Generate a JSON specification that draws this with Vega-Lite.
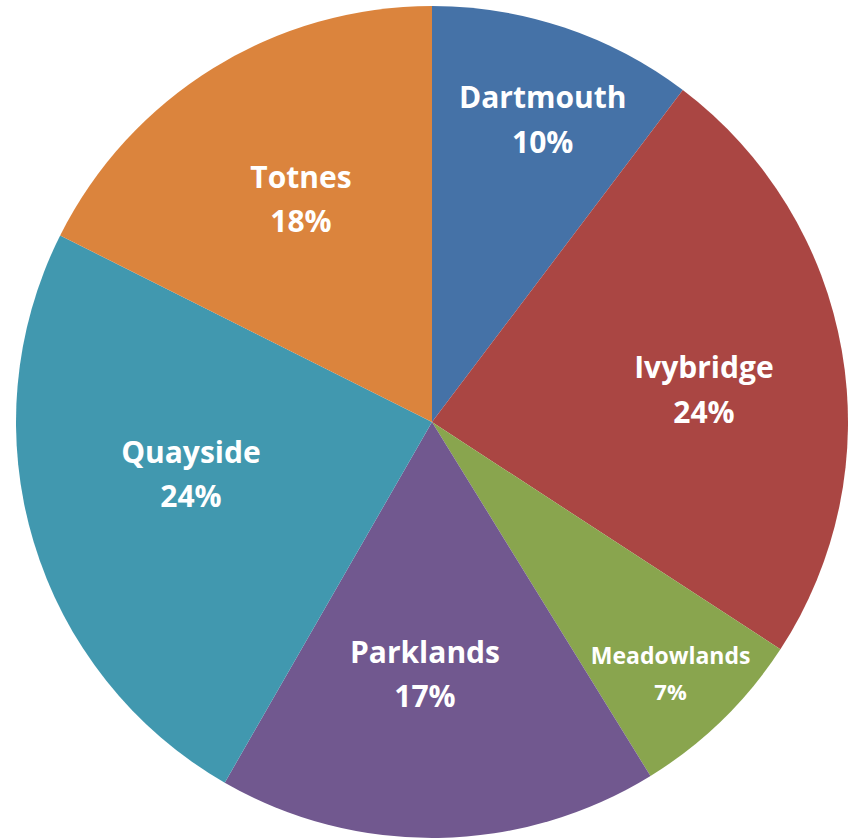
{
  "$schema": "https://vega.github.io/schema/vega-lite/v6.json",
  "width": 840,
  "height": 834,
  "padding": {"left": 12, "top": 5, "right": 0, "bottom": 0},
  "autosize": {"type": "none"},
  "background": "white",
  "view": {"stroke": null},
  "config": {"text": {"font": "Open Sans", "fontWeight": "bold", "fill": "white", "fontSize": 30}},
  "data": {
    "values": [
      {"order": 1, "region": "Dartmouth", "share": 0.103},
      {"order": 2, "region": "Ivybridge", "share": 0.239},
      {"order": 3, "region": "Meadowlands", "share": 0.070},
      {"order": 4, "region": "Parklands", "share": 0.171},
      {"order": 5, "region": "Quayside", "share": 0.241},
      {"order": 6, "region": "Totnes", "share": 0.176}
    ]
  },
  "encoding": {
    "theta": {"field": "share", "type": "quantitative", "stack": true},
    "order": {"field": "order", "type": "quantitative"}
  },
  "layer": [
    {
      "mark": {"type": "arc", "outerRadius": 416, "strokeWidth": 0},
      "encoding": {
        "color": {
          "field": "region",
          "type": "nominal",
          "legend": null,
          "scale": {
            "domain": ["Dartmouth", "Ivybridge", "Meadowlands", "Parklands", "Quayside", "Totnes"],
            "range": ["#4572A7", "#AA4643", "#89A54E", "#71588F", "#4198AF", "#DB843D"]
          }
        }
      }
    },
    {"mark": {"type": "text", "radius": 323, "dx": 8, "dy": -17},
     "encoding": {"text": {"condition": {"test": "datum.region === 'Dartmouth'", "field": "region"}, "value": ""}}},
    {"mark": {"type": "text", "radius": 323, "dx": 8, "dy": 28},
     "encoding": {"text": {"condition": {"test": "datum.region === 'Dartmouth'", "field": "share", "format": ".0%"}, "value": ""}}},
    {"mark": {"type": "text", "radius": 274, "dx": 2, "dy": -6},
     "encoding": {"text": {"condition": {"test": "datum.region === 'Ivybridge'", "field": "region"}, "value": ""}}},
    {"mark": {"type": "text", "radius": 274, "dx": 2, "dy": 39},
     "encoding": {"text": {"condition": {"test": "datum.region === 'Ivybridge'", "field": "share", "format": ".0%"}, "value": ""}}},
    {"mark": {"type": "text", "radius": 346, "dx": -3, "dy": -13, "fontSize": 23},
     "encoding": {"text": {"condition": {"test": "datum.region === 'Meadowlands'", "field": "region"}, "value": ""}}},
    {"mark": {"type": "text", "radius": 346, "dx": -3, "dy": 23, "fontSize": 22},
     "encoding": {"text": {"condition": {"test": "datum.region === 'Meadowlands'", "field": "share", "format": ".0%"}, "value": ""}}},
    {"mark": {"type": "text", "radius": 252, "dx": -11, "dy": -20},
     "encoding": {"text": {"condition": {"test": "datum.region === 'Parklands'", "field": "region"}, "value": ""}}},
    {"mark": {"type": "text", "radius": 252, "dx": -11, "dy": 24},
     "encoding": {"text": {"condition": {"test": "datum.region === 'Parklands'", "field": "share", "format": ".0%"}, "value": ""}}},
    {"mark": {"type": "text", "radius": 258, "dx": 6, "dy": -42},
     "encoding": {"text": {"condition": {"test": "datum.region === 'Quayside'", "field": "region"}, "value": ""}}},
    {"mark": {"type": "text", "radius": 258, "dx": 6, "dy": 2},
     "encoding": {"text": {"condition": {"test": "datum.region === 'Quayside'", "field": "share", "format": ".0%"}, "value": ""}}},
    {"mark": {"type": "text", "radius": 259, "dx": 5, "dy": -23},
     "encoding": {"text": {"condition": {"test": "datum.region === 'Totnes'", "field": "region"}, "value": ""}}},
    {"mark": {"type": "text", "radius": 259, "dx": 5, "dy": 21},
     "encoding": {"text": {"condition": {"test": "datum.region === 'Totnes'", "field": "share", "format": ".0%"}, "value": ""}}}
  ]
}
